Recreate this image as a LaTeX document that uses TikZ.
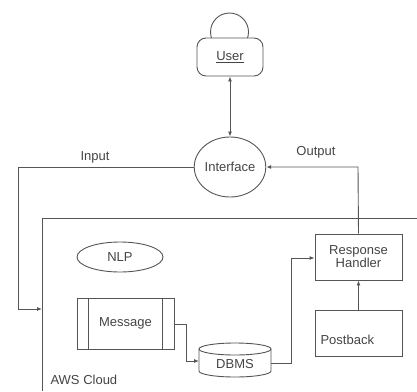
\documentclass[tikz,border=0pt]{standalone}
\usepackage{fontspec}
\setmainfont{Liberation Sans}
\usetikzlibrary{arrows.meta,shapes.geometric}
\definecolor{ln}{HTML}{555555}
\definecolor{tx}{HTML}{444444}
\tikzset{
  every node/.style={font=\fontsize{13}{15}\selectfont, text=tx},
  wire/.style={draw=ln, line width=0.9pt},
  arr/.style={wire, -{Latex[length=5pt,width=4pt]}},
  box/.style={draw=ln, line width=0.9pt, rectangle, inner sep=0pt},
}
\begin{document}
\begin{tikzpicture}[x=1pt,y=-1pt]
\useasboundingbox (0,0) rectangle (417,391);
% user actor
\draw[wire] (229.5,32) circle (19);
\node[box, rounded corners=9pt, minimum width=66pt, minimum height=38pt, fill=white] (user) at (230,57) {\underline{User}};
% interface
\node[draw=ln, line width=0.9pt, ellipse, minimum width=61pt, minimum height=60pt, inner sep=0pt] (iface) at (230,167) {Interface};
\draw[wire, {Latex[length=5pt,width=4pt]}-{Latex[length=5pt,width=4pt]}] (user.south) -- (iface.north);
% AWS cloud
\draw[wire] (417,218) -- (42,218) -- (42,391);
\coordinate (cloudin) at (42,309);
\node[anchor=west] (aws) at (47,380) {AWS Cloud};
% NLP
\node[draw=ln, line width=0.9pt, ellipse, minimum width=86pt, minimum height=30pt, inner sep=0pt] (nlp) at (120,257) {NLP};
% Message
\node[box, minimum width=97pt, minimum height=51pt] (msg) at (125.5,323.5) {Message};
\draw[wire] ([xshift=12pt]msg.north west) -- ([xshift=12pt]msg.south west);
\draw[wire] ([xshift=-12pt]msg.north east) -- ([xshift=-12pt]msg.south east);
% DBMS cylinder
\coordinate (db) at (235,360);
\draw[wire] (199,349) -- (199,371) arc[start angle=180, end angle=360, x radius=36, y radius=-6] -- (271,349);
\draw[wire] (235,349) ellipse[x radius=36, y radius=6];
\coordinate (dbw) at (199,361);
\coordinate (dbe) at (271,363);
\node (dbl) at (235,364) {DBMS};
% Response handler
\node[box, minimum width=87pt, minimum height=46pt, align=center] (rh) at (358.5,257) {Response\\[-2pt]Handler};
% Postback
\node[box, minimum width=87pt, minimum height=46pt] (pb) at (358.5,333) {};
\node[anchor=west] (pbl) at (317,340) {Postback};
% connectors
\draw[arr] (iface.west) -- (18,167) -- (18,309) -- (cloudin);
\node (inlbl) at (95,157) {Input};
\draw[arr] (rh.north) -- (358,167) -- (iface.east);
\node (outlbl) at (316,152) {Output};
\draw[arr] (msg.east |- 0,324) -- (186,324) -- (186,361) -- (dbw);
\draw[arr] (dbe) -- (291,363) -- (291,258) -- (rh.west |- 0,258);
\draw[arr] (pb.north) -- (rh.south);
\end{tikzpicture}
\end{document}
